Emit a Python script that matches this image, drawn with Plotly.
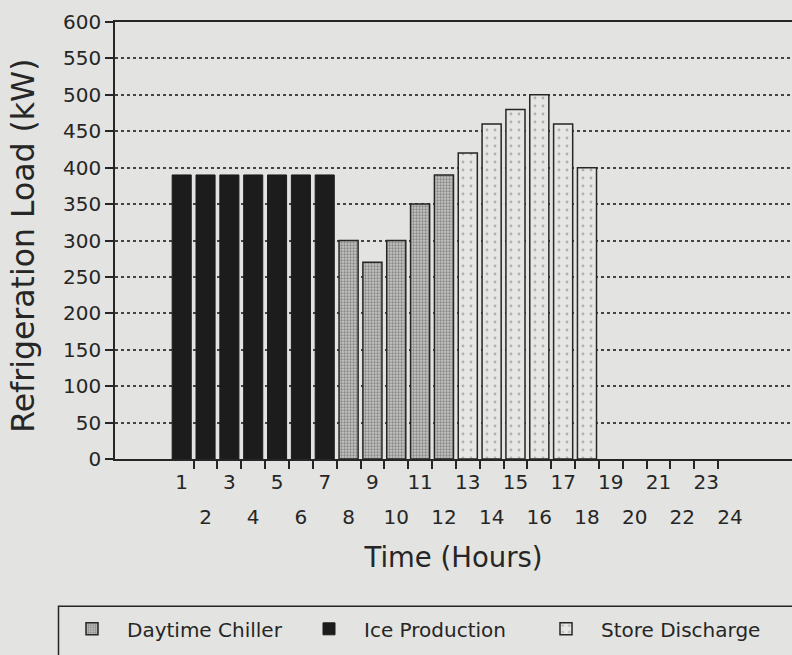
import plotly.graph_objects as go

# ---- data ----
hours_chiller = [8, 9, 10, 11, 12]
load_chiller = [300, 270, 300, 350, 390]
hours_ice = [1, 2, 3, 4, 5, 6, 7]
load_ice = [390, 390, 390, 390, 390, 390, 390]
hours_store = [13, 14, 15, 16, 17, 18]
load_store = [420, 460, 480, 500, 460, 400]

odd_hours = [1, 3, 5, 7, 9, 11, 13, 15, 17, 19, 21, 23]
even_hours = [2, 4, 6, 8, 10, 12, 14, 16, 18, 20, 22, 24]
hour_boundaries = [1.5, 2.5, 3.5, 4.5, 5.5, 6.5, 7.5, 8.5, 9.5, 10.5, 11.5, 12.5,
                   13.5, 14.5, 15.5, 16.5, 17.5, 18.5, 19.5, 20.5, 21.5, 22.5, 23.5]
y_ticks = [0, 50, 100, 150, 200, 250, 300, 350, 400, 450, 500, 550, 600]

BG = "#e3e3e1"
INK = "#262626"
FONT = "DejaVu Sans, Liberation Sans, Arial, sans-serif"

W, H = 792, 655
L, R, T, B = 115, 0, 22, 195.5
PW, PH = W - L - R, H - T - B

def px_x(px):
    return (px - L) / PW

def px_y(py):
    return (H - B - py) / PH

fig = go.Figure()

bar_line = dict(color=INK, width=1.5)
fig.add_trace(go.Bar(
    x=hours_chiller, y=load_chiller, name="Daytime Chiller", width=0.8,
    marker=dict(color="#bcbcba", line=bar_line,
                pattern=dict(shape=".", size=3, solidity=0.45, fgcolor="#4a4a4a", bgcolor="#c4c4c2")),
))
fig.add_trace(go.Bar(
    x=hours_ice, y=load_ice, name="Ice Production", width=0.8,
    marker=dict(color="#1c1c1c", line=dict(color="#1c1c1c", width=1)),
))
fig.add_trace(go.Bar(
    x=hours_store, y=load_store, name="Store Discharge", width=0.8,
    marker=dict(color="#e6e6e4", line=bar_line,
                pattern=dict(shape=".", size=8, solidity=0.1, fgcolor="#7a7a7a", bgcolor="#e6e6e4")),
))
# carrier for the second row of hour labels (no visible marks)
fig.add_trace(go.Scatter(
    x=even_hours, y=[None] * len(even_hours), xaxis="x2", yaxis="y",
    mode="markers", showlegend=False, hoverinfo="skip",
))

xr = [1 - (181.7 - L) / 23.84, 1 - (181.7 - L) / 23.84 + PW / 23.84]

fig.update_layout(
    width=W, height=H,
    margin=dict(l=L, r=R, t=T, b=B, pad=0),
    paper_bgcolor=BG, plot_bgcolor=BG,
    font=dict(family=FONT, color=INK, size=20),
    barmode="overlay",
    showlegend=True,
    legend=dict(
        orientation="h", x=px_x(57), xanchor="left", y=px_y(610), yanchor="top",
        font=dict(size=20, family=FONT, color=INK),
        itemwidth=60, entrywidth=162, entrywidthmode="pixels",
        bgcolor="rgba(0,0,0,0)", borderwidth=0, traceorder="normal",
    ),
    xaxis=dict(
        range=xr, tickmode="array", tickvals=odd_hours,
        ticktext=[str(h) for h in odd_hours],
        ticks="", showline=True, linecolor=INK, linewidth=1.5, mirror=True,
        showgrid=False, zeroline=False, tickfont=dict(size=20),
        ticklabelstandoff=4,
        minor=dict(tickmode="array", tickvals=hour_boundaries, ticks="outside",
                   ticklen=8, tickwidth=1.5, tickcolor=INK, showgrid=False),
    ),
    xaxis2=dict(
        overlaying="x", matches="x", anchor="y", side="bottom",
        range=xr, tickmode="array", tickvals=even_hours,
        ticktext=[str(h) for h in even_hours],
        ticks="", showline=False, showgrid=False, zeroline=False,
        tickfont=dict(size=20), ticklabelstandoff=44,
        title=dict(text="Time (Hours)", font=dict(size=27.5), standoff=19),
    ),
    yaxis=dict(
        range=[0, 600], tickmode="array", tickvals=y_ticks,
        ticks="outside", ticklen=8, tickwidth=1.5, tickcolor=INK,
        showline=True, linecolor=INK, linewidth=1.5,
        showgrid=True, griddash="dot", gridcolor="#444444", gridwidth=1.5,
        zeroline=False, tickfont=dict(size=20),
    ),
    annotations=[dict(
        text="Refrigeration Load (kW)", textangle=-90,
        xref="paper", yref="paper", x=px_x(23), y=px_y(246),
        xanchor="center", yanchor="middle", showarrow=False,
        font=dict(size=31.5, family=FONT, color=INK),
    )],
    shapes=[dict(
        type="rect", xref="paper", yref="paper",
        x0=px_x(58.5), x1=px_x(820), y0=px_y(607), y1=px_y(700),
        line=dict(color=INK, width=1.5), fillcolor="rgba(0,0,0,0)", layer="below",
    )],
)

fig.write_html("out.html")
